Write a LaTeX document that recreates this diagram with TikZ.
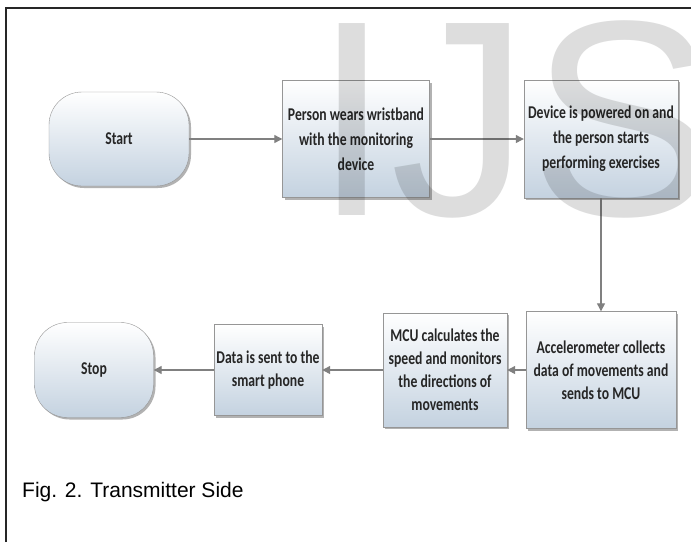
\documentclass[tikz,border=0pt]{standalone}
\usepackage{fontspec}
\setmainfont{Liberation Sans}
\newfontfamily\boxfont[FakeStretch=0.76]{Carlito}
\usetikzlibrary{arrows.meta,shadows}
\definecolor{boxbottom}{RGB}{196,210,224}
\definecolor{boxline}{RGB}{150,150,150}
\definecolor{arrowgray}{RGB}{128,128,128}
\definecolor{markgray}{RGB}{221,221,221}
\begin{document}
\begin{tikzpicture}[x=1pt,y=-1pt,
  stepbox/.style={draw=boxline,top color=white,bottom color=boxbottom,
    drop shadow={shadow xshift=2pt,shadow yshift=-2pt,fill=black!50,opacity=0.6},
    align=center,inner sep=0pt,text=black!85,
    font=\boxfont\bfseries\fontsize{18}{25}\selectfont},
  lowbox/.style={stepbox,font=\boxfont\bfseries\fontsize{18}{23}\selectfont},
  endbox/.style={stepbox,rounded corners=33pt},
  flow/.style={draw=arrowgray,line width=1.2pt,-{Triangle[width=8pt,length=8pt]}}]
\useasboundingbox (0,0) rectangle (691,542);
\fill[white] (0,0) rectangle (691,542);
\draw[line width=2pt,black!85] (6,542) -- (6,8) -- (691,8);
\node[endbox,minimum width=140pt,minimum height=94pt] (start) at (119,139) {Start};
\node[stepbox,minimum width=147pt,minimum height=117pt] (wear) at (356,139) {Person wears wristband\\with the monitoring\\device};
\node[stepbox,minimum width=154pt,minimum height=118pt] (power) at (601,139) {Device is powered on and\\the person starts\\performing exercises};
\node[lowbox,minimum width=150pt,minimum height=117pt] (accel) at (601,370) {Accelerometer collects\\data of movements and\\sends to MCU};
\node[lowbox,minimum width=124pt,minimum height=114pt] (mcu) at (445,370) {MCU calculates the\\speed and monitors\\the directions of\\movements};
\node[lowbox,minimum width=108pt,minimum height=91pt] (data) at (268,370) {Data is sent to the\\smart phone};
\node[endbox,minimum width=119pt,minimum height=95pt] (stop) at (94,370) {Stop};
\draw[flow] (start) -- (wear);
\draw[flow] (wear) -- (power);
\draw[flow] (power) -- (accel);
\draw[flow] (accel) -- (mcu);
\draw[flow] (mcu) -- (data);
\draw[flow] (data) -- (stop);
\node[anchor=west,inner sep=0pt,font=\fontsize{21}{25}\selectfont] (caption) at (22,492) {Fig. 2. Transmitter Side};
\begin{scope}[blend mode=multiply]
\clip (0,0) rectangle (691,542);
\node[anchor=base west,inner sep=0pt,text=markgray,font=\fontsize{279}{279}\selectfont] (mark) at (313,215) {IJS};
\end{scope}
\end{tikzpicture}
\end{document}
